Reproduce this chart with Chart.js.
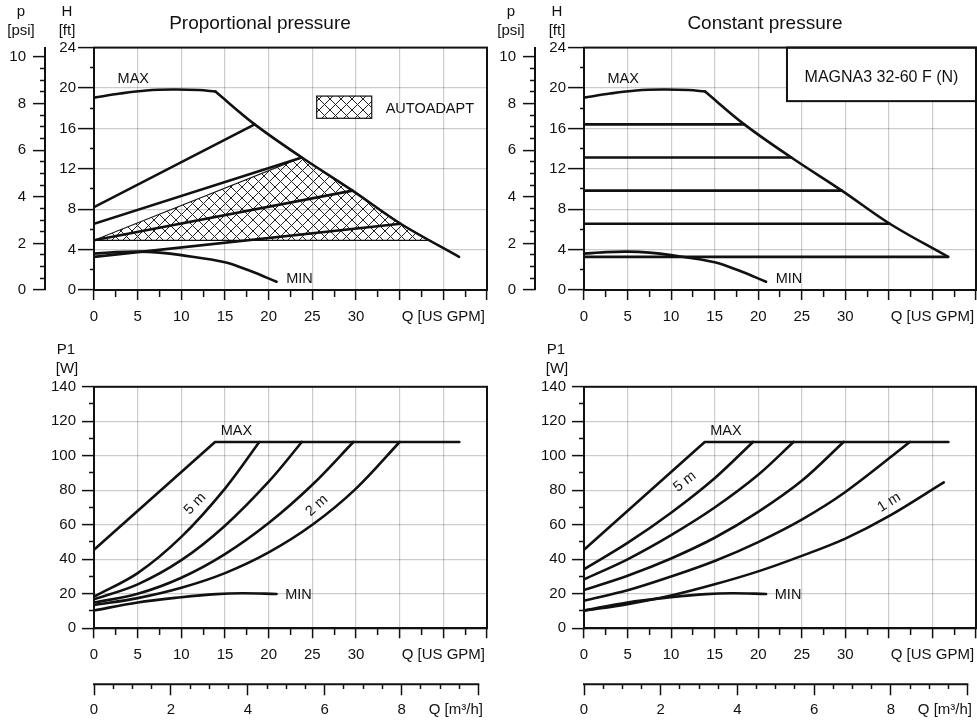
<!DOCTYPE html>
<html>
<head>
<meta charset="utf-8">
<title>MAGNA3 32-60 F (N)</title>
<script src="https://cdn.jsdelivr.net/npm/chart.js@4.4.1/dist/chart.umd.min.js"></script>
<style>
  html, body { margin: 0; padding: 0; background: #fff; }
  #page { position: relative; width: 977px; height: 721px; overflow: hidden; font-family: "Liberation Sans", Arial, sans-serif; color: #111; }
  #page canvas { position: absolute; }
  .lbl { position: absolute; transform: translate(-50%, -50%); white-space: nowrap; line-height: 1; font-size: 15px; }
  .ttl { font-size: 19px; }
</style>
</head>
<body>
<div id="page">
  <canvas id="headProp" width="490" height="335" style="left:0;top:0"></canvas>
  <canvas id="headConst" width="487" height="335" style="left:490px;top:0"></canvas>
  <canvas id="powerProp" width="490" height="386" style="left:0;top:335px"></canvas>
  <canvas id="powerConst" width="487" height="386" style="left:490px;top:335px"></canvas>

  <div class="lbl ttl" style="left:260px;top:22px">Proportional pressure</div>
  <div class="lbl ttl" style="left:765px;top:22px">Constant pressure</div>

  <div class="lbl" style="left:21px;top:10px">p</div>
  <div class="lbl" style="left:21px;top:29px">[psi]</div>
  <div class="lbl" style="left:67px;top:10px">H</div>
  <div class="lbl" style="left:67px;top:29px">[ft]</div>
  <div class="lbl" style="left:511px;top:10px">p</div>
  <div class="lbl" style="left:511px;top:29px">[psi]</div>
  <div class="lbl" style="left:557px;top:10px">H</div>
  <div class="lbl" style="left:557px;top:29px">[ft]</div>

  <div class="lbl" style="left:66px;top:348px">P1</div>
  <div class="lbl" style="left:67px;top:367px">[W]</div>
  <div class="lbl" style="left:556px;top:348px">P1</div>
  <div class="lbl" style="left:557px;top:367px">[W]</div>
</div>

<script>
// ---- axis labels ----
const gpmLabels = [0, 5, 10, 15, 20, 25, 30];
const gpmTitle = 'Q [US GPM]';
const m3hLabels = [0, 2, 4, 6, 8];
const m3hTitle = 'Q [m³/h]';
const psiLabels = [0, 2, 4, 6, 8, 10];
const ftLabels = [0, 4, 8, 12, 16, 20, 24];
const wattLabels = [0, 20, 40, 60, 80, 100, 120, 140];

// ---- head curves, [Q US GPM, H ft] ----
const maxHeadTop = [[0, 19.05], [3, 19.45], [6, 19.75], [9, 19.85], [12, 19.8], [13.9, 19.65]];
const maxHeadSlope = [[13.9, 19.65], [18.4, 16.4], [23.8, 13.12], [29.6, 9.84], [35.1, 6.56], [41.8, 3.28]];
const minHead = [[0, 3.6], [2.5, 3.75], [5, 3.8], [7.5, 3.7], [10, 3.45], [15, 2.75], [18, 1.85], [20.9, 0.82]];
const propHead = [
  [[0, 8.2], [18.4, 16.4]],
  [[0, 6.56], [23.8, 13.12]],
  [[0, 4.92], [29.6, 9.84]],
  [[0, 3.28], [35.1, 6.56]]
];
const constHeadLevels = [16.4, 13.12, 9.84, 6.56, 3.28];
const constHeadEnds = [18.4, 23.8, 29.6, 35.1, 41.8];
const autoAdaptArea = [[0, 4.92], [23.8, 13.12], [29.6, 9.84], [35.1, 6.56], [38.45, 4.92], [0, 4.92]];

// ---- power curves, [Q US GPM, P1 W] ----
const maxPower = [[0, 45.5], [13.86, 108], [41.83, 108]];
const minPower = [[0, 10.3], [5, 15], [10, 18], [14, 19.8], [17, 20.3], [20.9, 19.9]];
const propPower = [
  [[0, 18.4], [5, 32], [10, 53], [15, 81], [18.93, 108]],
  [[0, 16.8], [5, 25.5], [10, 39.5], [15, 59.5], [20, 85], [23.8, 108]],
  [[0, 14.9], [5, 20], [10, 29.3], [15, 43], [20, 61], [25, 83.2], [29.7, 108]],
  [[0, 13.5], [5, 17.5], [10, 23.5], [15, 32], [20, 44], [25, 60], [30, 81], [35, 108]]
];
const constPower = [
  [[0, 34.2], [5, 49.5], [10, 67], [15, 87], [19.4, 108]],
  [[0, 28.4], [5, 40], [10, 54], [15, 70], [20, 89], [24.05, 108]],
  [[0, 22.2], [5, 30.5], [10, 40.5], [15, 52.5], [20, 67.5], [25, 85.5], [29.8, 108]],
  [[0, 16], [5, 22], [10, 30], [15, 39], [20, 50], [25, 63], [30, 79], [37.4, 108]],
  [[0, 10.2], [5, 14], [10, 19], [15, 25.5], [20, 33], [25, 42], [30, 52], [35, 65], [41.3, 84.6]]
];

const INK = '#111';
const GRID = 'rgba(0,0,0,0.2)';
const FONT = '"Liberation Sans", Arial, sans-serif';
const FT_PER_PSI = 2.30666;
const GPM_PER_M3H = 4.40287;
const Q_MAX = 45;
const M3H_TITLE_AT = 9.41;

Chart.defaults.font.family = FONT;
Chart.defaults.font.size = 15;
Chart.defaults.color = INK;

function steps(max, step) {
  const out = [];
  for (let i = 0; i * step <= max + 1e-9; i++) out.push({ value: Math.round(i * step * 1000) / 1000 });
  return out;
}
const onStep = (v, k) => Math.abs(v / k - Math.round(v / k)) < 1e-6;

// chart.js keeps room for edge labels; the layout here is fixed by hand
function noPad(s) { s.paddingLeft = 0; s.paddingRight = 0; s.paddingTop = 0; s.paddingBottom = 0; }

function yAxis(o) {
  return {
    type: 'linear', position: 'left', min: 0, max: o.max, weight: o.weight,
    afterBuildTicks: s => { s.ticks = steps(o.max, o.step); },
    afterFit: s => { s.width = o.width; noPad(s); },
    ticks: { autoSkip: false, padding: o.pad, color: INK, callback: v => o.labels.includes(v) ? String(v) : '' },
    grid: {
      drawOnChartArea: o.grid,
      color: c => (c.tick && o.grid && onStep(c.tick.value, o.major) && c.tick.value > 0 && c.tick.value < o.max) ? GRID : 'transparent',
      lineWidth: 1.2,
      tickLength: o.tl, tickWidth: 1.5, tickColor: INK,
      tickBorderDash: c => (c.tick && onStep(c.tick.value, o.major)) ? [] : [0, o.tl - o.minor, o.minor, 100]
    },
    border: { display: true, color: INK, width: 2 }
  };
}

function qAxis(height, pad) {
  return {
    type: 'linear', position: 'bottom', min: 0, max: Q_MAX, weight: 0,
    afterBuildTicks: s => { s.ticks = steps(Q_MAX, 2.5); },
    afterFit: s => { s.height = height; noPad(s); },
    ticks: { autoSkip: false, maxRotation: 0, minRotation: 0, padding: pad, color: INK,
      callback: v => v === 40 ? gpmTitle : (gpmLabels.includes(v) ? String(v) : '') },
    grid: {
      color: c => (c.tick && onStep(c.tick.value, 5) && c.tick.value > 0 && c.tick.value < Q_MAX) ? GRID : 'transparent',
      lineWidth: 1.2,
      tickLength: 10, tickWidth: 1.5, tickColor: INK,
      tickBorderDash: c => (c.tick && onStep(c.tick.value, 5)) ? [] : [6, 30]
    },
    border: { display: true, color: INK, width: 2 }
  };
}

function m3Axis(height) {
  return {
    type: 'linear', position: 'bottom', min: 0, max: Q_MAX / GPM_PER_M3H, weight: 1,
    afterBuildTicks: s => {
      s.ticks = steps(10, 0.5).concat([{ value: M3H_TITLE_AT }]).sort((a, b) => a.value - b.value);
    },
    afterFit: s => { s.height = height; noPad(s); },
    ticks: { autoSkip: false, maxRotation: 0, minRotation: 0, padding: 6, color: INK,
      callback: v => v === M3H_TITLE_AT ? m3hTitle : (m3hLabels.includes(v) ? String(v) : '') },
    grid: {
      drawOnChartArea: false,
      tickLength: 11, tickWidth: 1.5,
      tickColor: c => (c.tick && c.tick.value === M3H_TITLE_AT) ? 'transparent' : INK,
      tickBorderDash: c => (c.tick && (onStep(c.tick.value, 2) || c.tick.value === 10)) ? [] : [5, 30]
    },
    border: { display: false }
  };
}

function lineSet(points, axis, smooth) {
  return {
    data: points.map(p => ({ x: p[0], y: p[1] })), yAxisID: axis,
    borderColor: INK, borderWidth: 2.6, pointRadius: 0, fill: false,
    cubicInterpolationMode: 'default', tension: smooth === false ? 0 : 0.35,
    borderCapStyle: 'round', borderJoinStyle: 'round'
  };
}

function hatchPattern() {
  const s = 11, c = document.createElement('canvas');
  c.width = c.height = s;
  const g = c.getContext('2d');
  g.strokeStyle = '#222'; g.lineWidth = 1;
  g.beginPath();
  for (const d of [-s, 0, s]) {
    g.moveTo(d, 0); g.lineTo(d + s, s);
    g.moveTo(d + s, 0); g.lineTo(d, s);
  }
  g.stroke();
  return g.createPattern(c, 'repeat');
}

function note(chart, ctx, yId, x, y, text, align, rot) {
  const px = chart.scales.x.getPixelForValue(x);
  const py = chart.scales[yId].getPixelForValue(y);
  ctx.save();
  ctx.translate(px, py);
  ctx.rotate((rot || 0) * Math.PI / 180);
  ctx.font = '14.5px ' + FONT;
  ctx.fillStyle = INK;
  ctx.textAlign = align || 'center';
  ctx.textBaseline = 'middle';
  ctx.fillText(text, 0, 0);
  ctx.restore();
}

const frame = {
  id: 'frame',
  afterDraw(chart) {
    const { ctx, chartArea: a } = chart;
    ctx.save();
    ctx.strokeStyle = INK; ctx.lineWidth = 2;
    ctx.strokeRect(a.left, a.top, a.right - a.left, a.bottom - a.top);
    ctx.restore();
  }
};

function overlay(id, draw) {
  return { id: id, afterDatasetsDraw(chart) { const c = chart.ctx; c.save(); draw(chart, c); c.restore(); } };
}

const m3Line = overlay('m3line', (chart, ctx) => {
  const s = chart.scales.m3;
  ctx.strokeStyle = INK; ctx.lineWidth = 2;
  ctx.beginPath();
  ctx.moveTo(s.getPixelForValue(0) - 1, s.top);
  ctx.lineTo(s.getPixelForValue(10) + 0.75, s.top);
  ctx.stroke();
});

function headScales() {
  return {
    x: qAxis(45, 8),
    h: yAxis({ max: 24, step: 2, major: 4, labels: ftLabels, tl: 16, minor: 4, width: 49, weight: 0, grid: true, pad: 2 }),
    p: yAxis({ max: 24 / FT_PER_PSI, step: 0.5, major: 2, labels: psiLabels, tl: 12, minor: 5, width: 45, weight: 1, grid: false, pad: 7 })
  };
}
function powerScales() {
  return {
    x: qAxis(56, 8),
    m3: m3Axis(36.7),
    w: yAxis({ max: 140, step: 10, major: 20, labels: wattLabels, tl: 12, minor: 5, width: 94, weight: 0, grid: true, pad: 6 })
  };
}
function baseOptions(scales, padding) {
  return {
    responsive: false, animation: false, events: [],
    layout: { padding: padding },
    plugins: { legend: { display: false }, tooltip: { enabled: false } },
    scales: scales
  };
}

const hatch = hatchPattern();

// ---- Proportional pressure: head ----
const headPropSets = [
  lineSet(maxHeadTop, 'h'), lineSet(maxHeadSlope, 'h'), lineSet(minHead, 'h')
].concat(propHead.map(l => lineSet(l, 'h', false)));
headPropSets.push({
  data: autoAdaptArea.map(p => ({ x: p[0], y: p[1] })), yAxisID: 'h',
  borderColor: INK, borderWidth: 1.2, pointRadius: 0, tension: 0,
  fill: 'shape', backgroundColor: hatch, order: 10
});
new Chart(document.getElementById('headProp'), {
  type: 'line',
  data: { datasets: headPropSets },
  options: baseOptions(headScales(), { top: 47.6, right: 3, left: 0, bottom: 0 }),
  plugins: [frame, overlay('headPropNotes', (chart, ctx) => {
    note(chart, ctx, 'h', 4.5, 20.9, 'MAX');
    note(chart, ctx, 'h', 22.0, 1.1, 'MIN', 'left');
    const x = chart.scales.x, h = chart.scales.h;
    const l = x.getPixelForValue(25.5), r = x.getPixelForValue(31.8);
    const t = h.getPixelForValue(19.2), b = h.getPixelForValue(17.0);
    ctx.fillStyle = '#fff'; ctx.fillRect(l, t, r - l, b - t);
    ctx.fillStyle = hatch; ctx.fillRect(l, t, r - l, b - t);
    ctx.strokeStyle = INK; ctx.lineWidth = 1.2; ctx.strokeRect(l, t, r - l, b - t);
    note(chart, ctx, 'h', 33.4, 17.9, 'AUTOADAPT', 'left');
  })]
});

// ---- Constant pressure: head ----
const headConstSets = [
  lineSet(maxHeadTop, 'h'), lineSet(maxHeadSlope, 'h'), lineSet(minHead, 'h')
].concat(constHeadLevels.map((lv, i) => lineSet([[0, lv], [constHeadEnds[i], lv]], 'h', false)));
new Chart(document.getElementById('headConst'), {
  type: 'line',
  data: { datasets: headConstSets },
  options: baseOptions(headScales(), { top: 47.6, right: 1, left: 0, bottom: 0 }),
  plugins: [frame, overlay('headConstNotes', (chart, ctx) => {
    note(chart, ctx, 'h', 4.5, 20.9, 'MAX');
    note(chart, ctx, 'h', 22.0, 1.1, 'MIN', 'left');
    const a = chart.chartArea, x = chart.scales.x, h = chart.scales.h;
    const l = x.getPixelForValue(23.3), b = h.getPixelForValue(18.7);
    ctx.fillStyle = '#fff'; ctx.fillRect(l, a.top, a.right - l, b - a.top);
    ctx.strokeStyle = INK; ctx.lineWidth = 2; ctx.strokeRect(l, a.top, a.right - l, b - a.top);
    ctx.font = '16px ' + FONT; ctx.fillStyle = INK; ctx.textAlign = 'center'; ctx.textBaseline = 'middle';
    ctx.fillText('MAGNA3 32-60 F (N)', (l + a.right) / 2, (a.top + b) / 2 + 3);
  })]
});

// ---- Proportional pressure: power ----
new Chart(document.getElementById('powerProp'), {
  type: 'line',
  data: { datasets: [lineSet(maxPower, 'w', false), lineSet(minPower, 'w')].concat(propPower.map(c => lineSet(c, 'w'))) },
  options: baseOptions(powerScales(), { top: 51.8, right: 3, left: 0, bottom: 0 }),
  plugins: [frame, m3Line, overlay('powerPropNotes', (chart, ctx) => {
    note(chart, ctx, 'w', 16.3, 114.5, 'MAX');
    note(chart, ctx, 'w', 21.9, 19.3, 'MIN', 'left');
    note(chart, ctx, 'w', 11.57, 72.2, '5 m', 'center', -46);
    note(chart, ctx, 'w', 25.5, 71.1, '2 m', 'center', -42);
  })]
});

// ---- Constant pressure: power ----
new Chart(document.getElementById('powerConst'), {
  type: 'line',
  data: { datasets: [lineSet(maxPower, 'w', false), lineSet(minPower, 'w')].concat(constPower.map(c => lineSet(c, 'w'))) },
  options: baseOptions(powerScales(), { top: 51.8, right: 1, left: 0, bottom: 0 }),
  plugins: [frame, m3Line, overlay('powerConstNotes', (chart, ctx) => {
    note(chart, ctx, 'w', 16.3, 114.5, 'MAX');
    note(chart, ctx, 'w', 21.9, 19.3, 'MIN', 'left');
    note(chart, ctx, 'w', 11.57, 85, '5 m', 'center', -38);
    note(chart, ctx, 'w', 35.04, 73, '1 m', 'center', -32);
  })]
});
</script>
</body>
</html>
